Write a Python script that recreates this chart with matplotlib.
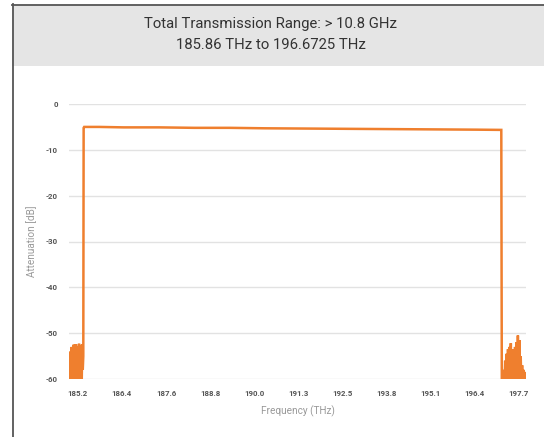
import numpy as np
import matplotlib
matplotlib.use('Agg')
import matplotlib.pyplot as plt
from matplotlib.patches import Rectangle
from matplotlib.lines import Line2D

plt.rcParams['font.family'] = ['Roboto', 'DejaVu Sans']

# --- data ---
# left stop band noise (before the rising edge)
left_f = [184.95, 184.965, 184.98, 184.995, 185.01, 185.025, 185.04, 185.055,
          185.07, 185.085, 185.10, 185.115, 185.13, 185.145, 185.16, 185.175,
          185.19, 185.205, 185.22, 185.235, 185.25, 185.265, 185.28, 185.295,
          185.31, 185.325, 185.34, 185.355]
left_db = [-62, -56, -62, -54, -61, -53, -62, -53.5, -62, -52.5, -61, -53,
           -62, -52.4, -58, -52.8, -62, -53, -61, -52.3, -62, -52.6, -58, -53,
           -61, -52.4, -58, -55]

# pass band
pass_f = [185.365, 185.38, 185.8, 186.5, 187.5, 188.5, 189.5, 190.5, 191.5,
          192.5, 193.5, 194.5, 195.5, 196.5, 197.2]
pass_db = [-5.2, -5.0, -5.0, -5.1, -5.1, -5.2, -5.2, -5.3, -5.35,
           -5.4, -5.45, -5.5, -5.55, -5.6, -5.65]

# right stop band noise (after the falling edge)
right_f = [197.215, 197.23, 197.25, 197.27, 197.29, 197.31, 197.33, 197.35,
           197.37, 197.39, 197.41, 197.43, 197.45, 197.47, 197.49, 197.51,
           197.53, 197.55, 197.57, 197.59, 197.61, 197.63, 197.65, 197.67,
           197.69, 197.71, 197.73, 197.75, 197.77, 197.79, 197.81, 197.83,
           197.85, 197.87, 197.89]
right_db = [-62, -60, -62, -58, -62, -56, -62, -54.5, -62, -53.5, -61, -53,
            -62, -52.2, -62, -54, -61, -53.5, -62, -53, -61, -52, -62, -50.5,
            -61, -51.5, -62, -55, -62, -57, -62, -58, -62, -58.5, -59]

xtick_pos = np.linspace(185.2, 197.7, 11)
xtick_labels = ['185.2', '186.4', '187.6', '188.8', '190.0', '191.3',
                '192.5', '193.8', '195.1', '196.4', '197.7']
ytick_pos = [0, -10, -20, -30, -40, -50, -60]

freq = left_f + pass_f + right_f
atten = left_db + pass_db + right_db

W, H = 544, 437
fig = plt.figure(figsize=(W / 100, H / 100), dpi=100)

# grey header box + frame lines
fig.patches.append(Rectangle((12 / W, 1 - 66 / H), 1 - 12 / W, 61 / H,
                             transform=fig.transFigure, facecolor='#e5e5e5',
                             edgecolor='none', zorder=0))
fig.lines.append(Line2D([12 / W, 1], [1 - 4.5 / H, 1 - 4.5 / H],
                        transform=fig.transFigure, color='#555555', lw=1.3))
fig.lines.append(Line2D([12.5 / W, 12.5 / W], [0, 1 - 4 / H],
                        transform=fig.transFigure, color='#555555', lw=1.3))
fig.text(271 / W, 1 - 24 / H, 'Total Transmission Range: > 10.8 GHz',
         ha='center', va='center', fontsize=10.7, color='#333333')
fig.text(271 / W, 1 - 45 / H, '185.86 THz to 196.6725 THz',
         ha='center', va='center', fontsize=10.7, color='#333333')

ax = fig.add_axes([69 / W, (H - 379) / H, (526 - 69) / W, (379 - 104) / H])
ax.plot(freq, atten, color='#ef7f2e', lw=1.8, solid_joinstyle='miter')

ax.set_xlim(184.95, 197.9)
ax.set_ylim(-60, 0)
ax.set_yticks(ytick_pos)
ax.set_yticklabels([str(v) for v in ytick_pos])
ax.set_xticks(xtick_pos)
ax.set_xticklabels(xtick_labels)
ax.grid(axis='y', color='#e2e2e2', lw=1)
ax.set_axisbelow(True)
for s in ax.spines.values():
    s.set_visible(False)
ax.tick_params(length=0, labelsize=5.7, labelcolor='#555555', pad=8)
for t in ax.get_xticklabels() + ax.get_yticklabels():
    t.set_fontweight('bold')
ax.set_ylabel('Attenuation [dB]', fontsize=7.2, color='#999999', labelpad=6)
ax.set_xlabel('Frequency (THz)', fontsize=7.2, color='#999999', labelpad=6)

fig.savefig('out.png', dpi=100)
